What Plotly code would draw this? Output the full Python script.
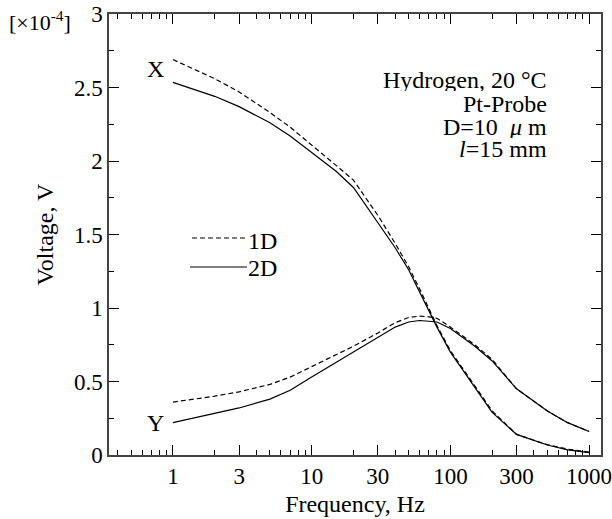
import plotly.graph_objects as go
import numpy as np

freq = [1, 2, 3, 5, 7, 10, 15, 20, 30, 40, 50, 60, 70, 80, 100, 150, 200, 300, 500, 700, 1000]
x_1d = [2.69, 2.56, 2.47, 2.33, 2.23, 2.11, 1.97, 1.87, 1.63, 1.44, 1.28, 1.13, 0.99, 0.88, 0.71, 0.47, 0.30, 0.14, 0.07, 0.04, 0.02]
x_2d = [2.535, 2.44, 2.37, 2.26, 2.17, 2.06, 1.93, 1.82, 1.58, 1.41, 1.26, 1.11, 0.98, 0.87, 0.70, 0.46, 0.29, 0.14, 0.068, 0.035, 0.016]
y_1d = [0.36, 0.40, 0.43, 0.48, 0.53, 0.60, 0.68, 0.74, 0.83, 0.90, 0.935, 0.945, 0.94, 0.93, 0.87, 0.75, 0.65, 0.45, 0.30, 0.22, 0.16]
y_2d = [0.22, 0.28, 0.32, 0.38, 0.44, 0.53, 0.63, 0.70, 0.80, 0.87, 0.905, 0.915, 0.91, 0.905, 0.86, 0.74, 0.64, 0.45, 0.30, 0.22, 0.16]

x_tickvals = [1, 3, 10, 30, 100, 300, 1000]
x_ticktext = ["1", "3", "10", "30", "100", "300", "1000"]
x_minor = [0.4, 0.5, 0.6, 0.7, 0.8, 0.9, 2, 4, 5, 6, 7, 8, 9, 20, 40, 50, 60, 70, 80, 90,
           200, 400, 500, 600, 700, 800, 900]
y_tickvals = [0, 0.5, 1, 1.5, 2, 2.5, 3]
y_ticktext = ["0", "0.5", "1", "1.5", "2", "2.5", "3"]
y_minor = [0.25, 0.75, 1.25, 1.75, 2.25, 2.75]

FONT = "Liberation Serif"
W, H = 612, 519
L, R, T, B = 109, 601, 14, 455

def px(xp):
    return (xp - L) / (R - L)

def py(yp):
    return (B - yp) / (B - T)

fig = go.Figure()
dash = "5px,3px"
fig.add_trace(go.Scatter(x=freq, y=x_1d, mode="lines", line=dict(color="black", width=1.2, dash=dash), showlegend=False))
fig.add_trace(go.Scatter(x=freq, y=x_2d, mode="lines", line=dict(color="black", width=1.2), showlegend=False))
fig.add_trace(go.Scatter(x=freq, y=y_1d, mode="lines", line=dict(color="black", width=1.2, dash=dash), showlegend=False))
fig.add_trace(go.Scatter(x=freq, y=y_2d, mode="lines", line=dict(color="black", width=1.2), showlegend=False))

axis_common = dict(
    showgrid=False, zeroline=False, showline=True, linecolor="#444", linewidth=1.5,
    mirror="allticks", ticks="inside", ticklen=10, tickwidth=1, tickcolor="black",
    tickfont=dict(family=FONT, size=23, color="black"), automargin=False,
    ticklabeloverflow="allow",
)

fig.update_xaxes(
    type="log", range=[np.log10(0.346), np.log10(1218)],
    tickmode="array", tickvals=x_tickvals, ticktext=x_ticktext,
    minor=dict(tickmode="array", tickvals=x_minor, ticks="inside", ticklen=5, tickcolor="black", showgrid=False),
    title=dict(text="Frequency, Hz", font=dict(family=FONT, size=24, color="black"), standoff=7),
    **axis_common,
)
fig.update_yaxes(
    range=[0, 3], tickmode="array", tickvals=y_tickvals, ticktext=y_ticktext,
    minor=dict(tickmode="array", tickvals=y_minor, ticks="inside", ticklen=5, tickcolor="black", showgrid=False),
    title=dict(text="Voltage, V", font=dict(family=FONT, size=24, color="black"), standoff=14),
    **axis_common,
)

ann_font = dict(family=FONT, size=24, color="black")

def ann(xp, yp, text, xanchor="center", size=None, height=None):
    d = dict(x=px(xp), y=py(yp), text=text, showarrow=False, xref="paper", yref="paper",
             xanchor=xanchor, yanchor="middle",
             font=ann_font if size is None else dict(family=FONT, size=size, color="black"))
    if height is not None:
        d["height"] = height
    return d

annotations = [
    ann(40, 21, "[×10<sup>-4</sup>]", size=22),
    ann(155, 69, "X"),
    ann(155, 423, "Y"),
    ann(246, 241, "1D", xanchor="left"),
    ann(246, 268, "2D", xanchor="left"),
    ann(549, 80, "Hydrogen, 20 °C", xanchor="right", height=22),
    ann(549, 104, "Pt-Probe", xanchor="right", height=22),
    ann(549, 127, "D=10  <i>μ</i> m", xanchor="right", height=22),
    ann(549, 149, "<i>l</i>=15 mm", xanchor="right", height=22),
]
shapes = [
    dict(type="line", xref="paper", yref="paper", x0=px(192), x1=px(247), y0=py(238), y1=py(238),
         line=dict(color="black", width=1.1, dash=dash)),
    dict(type="line", xref="paper", yref="paper", x0=px(190), x1=px(247), y0=py(267), y1=py(267),
         line=dict(color="black", width=1.1)),
]

fig.update_layout(
    width=W, height=H,
    margin=dict(l=L, r=W - R, t=T, b=H - B),
    paper_bgcolor="white", plot_bgcolor="white",
    annotations=annotations, shapes=shapes,
    font=dict(family=FONT, color="black"),
)

fig.write_html("out.html")
